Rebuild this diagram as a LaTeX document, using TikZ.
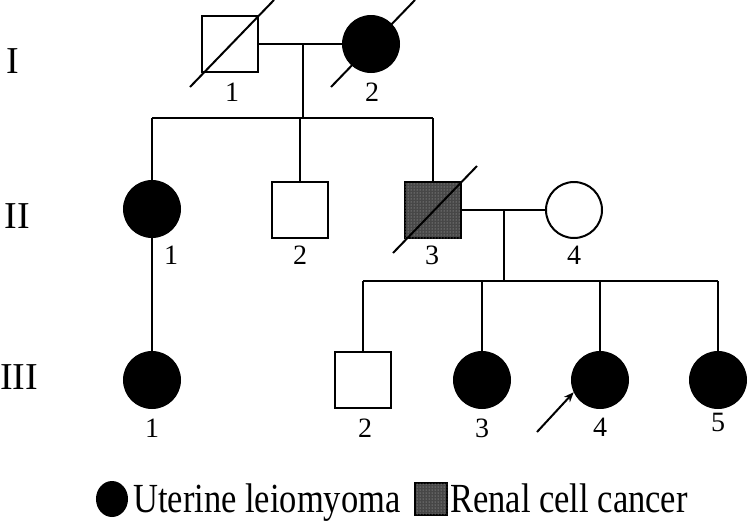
\documentclass[tikz,border=0pt]{standalone}
\usepackage{fontspec}
\setmainfont{Liberation Serif}
\usetikzlibrary{positioning,patterns,arrows.meta,shapes.geometric}
\tikzset{
	male/.style={draw, rectangle, line width=2pt, minimum size=56pt, inner sep=0pt},
	female/.style={draw, circle, line width=2pt, minimum size=56pt, inner sep=0pt},
	affected/.style={fill=black},
	renal/.style={fill=black!72, postaction={pattern=dots, pattern color=black!25}},
	line/.style={line width=2pt},
	num/.style={font=\fontsize{28}{32}\selectfont, inner sep=0pt},
	gen/.style={font=\fontsize{38}{44}\selectfont, inner sep=0pt},
	legtext/.style={font=\fontsize{34.5}{40}\selectfont, inner sep=0pt, anchor=base west},
}
\newcommand{\deceased}[1]{
	\draw[line] ([shift={(-40,43)}]#1.center) -- ([shift={(44,-44)}]#1.center);
}
\newcommand{\tallbox}[1]{\scalebox{1}[1.2]{#1}}
\begin{document}
\begin{tikzpicture}[x=1pt,y=-1pt]
	\useasboundingbox (0,0) rectangle (750,523);
	%Generation labels
	\node[gen] (genI) at (13,61) {I};
	\node[gen] (genII) at (17,216) {II};
	\node[gen] (genIII) at (19,377) {III};
	%Generation I
	\node[male] (I1) at (230,44) {};
	\node[female, affected] (I2) at (371,44) {};
	\deceased{I1}
	\deceased{I2}
	\node[num] (nI1) at (232,92) {1};
	\node[num] (nI2) at (372,92) {2};
	\coordinate (mI) at (303,44);
	\coordinate (sI) at (303,118);
	\draw[line] (I1) -- (I2);
	\draw[line] (mI) -- (sI);
	%Generation II
	\node[female, affected] (II1) at (152,209) {};
	\node[male] (II2) at (300,210) {};
	\node[male, renal] (II3) at (433,210) {};
	\node[female] (II4) at (574,210) {};
	\deceased{II3}
	\node[num] (nII1) at (171,255) {1};
	\node[num] (nII2) at (300,255) {2};
	\node[num] (nII3) at (432,255) {3};
	\node[num] (nII4) at (574,255) {4};
	\coordinate (sI1) at (152,118);
	\coordinate (sI2) at (300,118);
	\coordinate (sI3) at (433,118);
	\draw[line] (sI1) -- (sI3);
	\draw[line] (sI1) -- (II1);
	\draw[line] (sI2) -- (II2);
	\draw[line] (sI3) -- (II3);
	\draw[line] (II3) -- (II4);
	\coordinate (mII) at (504,210);
	\coordinate (sII) at (504,281);
	\draw[line] (mII) -- (sII);
	%Generation III
	\node[female, affected] (III1) at (152,380) {};
	\node[male] (III2) at (363,380) {};
	\node[female, affected] (III3) at (482,380) {};
	\node[female, affected] (III4) at (600,380) {};
	\node[female, affected] (III5) at (718,380) {};
	\node[num] (nIII1) at (152,428) {1};
	\node[num] (nIII2) at (365,428) {2};
	\node[num] (nIII3) at (482,428) {3};
	\node[num] (nIII4) at (600,427) {4};
	\node[num] (nIII5) at (718,422) {5};
	\draw[line] (II1) -- (III1);
	\coordinate (sII2) at (363,281);
	\coordinate (sII3) at (482,281);
	\coordinate (sII4) at (600,281);
	\coordinate (sII5) at (718,281);
	\draw[line] (sII2) -- (sII5);
	\draw[line] (sII2) -- (III2);
	\draw[line] (sII3) -- (III3);
	\draw[line] (sII4) -- (III4);
	\draw[line] (sII5) -- (III5);
	%Proband
	\coordinate (proband) at (537,432);
	\draw[line, -{Stealth[length=10pt,width=8pt]}] (proband) -- (III4.205);
	%Legend
	\node[female, affected, ellipse, minimum width=30pt, minimum height=34pt] (legUL) at (112,499) {};
	\node[legtext] (legULtext) at (133,512) {\tallbox{Uterine leiomyoma}};
	\node[male, renal, line width=1.2pt, minimum size=32pt] (legRC) at (431,499) {};
	\node[legtext] (legRCtext) at (450,512) {\tallbox{Renal cell cancer}};
\end{tikzpicture}
\end{document}
